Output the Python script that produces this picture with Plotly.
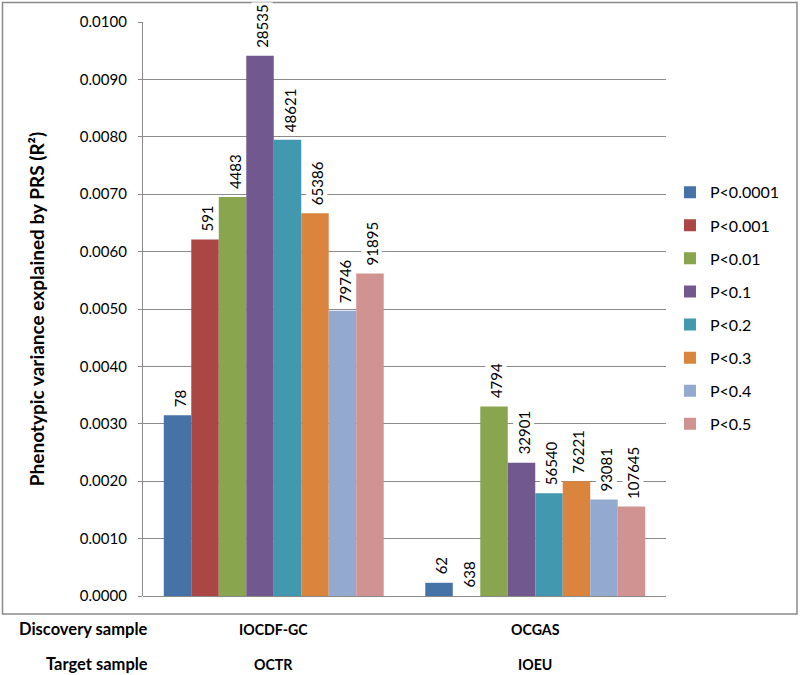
import plotly.graph_objects as go

# ---- data ----
categories = ["IOCDF-GC", "OCGAS"]
target_samples = ["OCTR", "IOEU"]
thresholds = ["P<0.0001", "P<0.001", "P<0.01", "P<0.1", "P<0.2", "P<0.3", "P<0.4", "P<0.5"]
r2_iocdf = [0.00315, 0.00621, 0.00695, 0.00941, 0.00795, 0.00667, 0.00497, 0.00562]
r2_ocgas = [0.00023, -0.00002, 0.00330, 0.00232, 0.00179, 0.00200, 0.00168, 0.00156]
snps_iocdf = ["78", "591", "4483", "28535", "48621", "65386", "79746", "91895"]
snps_ocgas = ["62", "638", "4794", "32901", "56540", "76221", "93081", "107645"]
colors = ["#4572A7", "#AA4643", "#89A54E", "#71588F", "#4198AF", "#DB843D", "#93A9CF", "#D19392"]
tick_vals = [0.000, 0.001, 0.002, 0.003, 0.004, 0.005, 0.006, 0.007, 0.008, 0.009, 0.010]
tick_text = ["0.0000", "0.0010", "0.0020", "0.0030", "0.0040", "0.0050",
             "0.0060", "0.0070", "0.0080", "0.0090", "0.0100"]

FONT = "Lato, 'Open Sans', Arial, sans-serif"
GRID = "#8a8a8a"
BARGAP = 0.159
PLOT_W = 800 - 143 - 134
PLOT_H = 675 - 22 - 79
BAR_PX = PLOT_W / len(categories) * (1 - BARGAP) / len(thresholds)


def px_x(px):
    return (px - 143) / PLOT_W


def px_y(px):
    return (596 - px) / PLOT_H


fig = go.Figure()
for i, name in enumerate(thresholds):
    fig.add_trace(go.Bar(
        name=name,
        x=categories,
        y=[r2_iocdf[i], r2_ocgas[i]],
        cliponaxis=False,
        marker=dict(color=colors[i], line=dict(width=0)),
        legendgroup=name,
    ))
    # SNP-count labels above each bar, white background like the original
    for cat, val, lab in zip(categories, [r2_iocdf[i], r2_ocgas[i]], [snps_iocdf[i], snps_ocgas[i]]):
        fig.add_annotation(
            x=cat, y=max(val, 0), xref="x", yref="y",
            text=lab, textangle=-90, showarrow=False,
            xanchor="center", yanchor="bottom",
            xshift=(i - (len(thresholds) - 1) / 2) * BAR_PX + 2, yshift=6,
            bgcolor="white", borderpad=1,
            font=dict(family=FONT, size=15, color="black"),
        )

fig.update_layout(
    width=800, height=675,
    barmode="group", bargap=BARGAP, bargroupgap=0,
    plot_bgcolor="white", paper_bgcolor="white",
    margin=dict(l=143, r=134, t=22, b=79, autoexpand=False),
    font=dict(family=FONT, size=15, color="black"),
    showlegend=True,
    legend=dict(
        x=1.0076, xanchor="left", y=0.733, yanchor="top",
        font=dict(family=FONT, size=16, color="black"),
        tracegroupgap=9.3, bgcolor="rgba(0,0,0,0)",
    ),
    xaxis=dict(showticklabels=False, showgrid=False, showline=False, ticks="",
               zeroline=False),
    yaxis=dict(
        range=[0, 0.0100], tickvals=tick_vals, ticktext=tick_text,
        showgrid=True, gridcolor=GRID, gridwidth=1.3,
        zeroline=True, zerolinecolor=GRID, zerolinewidth=1.3,
        showline=True, linecolor=GRID, linewidth=1.3,
        ticks="outside", ticklen=4, tickcolor=GRID, tickwidth=1.3,
        ticklabelstandoff=8,
        tickfont=dict(family=FONT, size=15, color="black"),
        title=dict(text="Phenotypic variance explained by PRS (R²)",
                   font=dict(family=FONT, size=19, color="black", weight="bold"),
                   standoff=30),
    ),
)

# outer chart frame
fig.add_shape(type="rect", xref="paper", yref="paper",
              x0=px_x(2.5), x1=px_x(797), y0=px_y(614), y1=px_y(2.5),
              line=dict(color="#8a8a8a", width=1.5), fillcolor="rgba(0,0,0,0)", layer="below")

lab_font = dict(family=FONT, size=14.2, color="black", weight="bold")
row_font = dict(family=FONT, size=16.5, color="black", weight="bold")
fig.add_annotation(text="Discovery sample", xref="paper", yref="paper",
                   x=px_x(150), xanchor="right", y=px_y(629), yanchor="middle",
                   showarrow=False, font=row_font)
fig.add_annotation(text="Target sample", xref="paper", yref="paper",
                   x=px_x(150), xanchor="right", y=px_y(664), yanchor="middle",
                   showarrow=False, font=row_font)
for cat, tgt in zip(categories, target_samples):
    fig.add_annotation(text=cat, xref="x", yref="paper", x=cat, y=px_y(629),
                       yanchor="middle", showarrow=False, font=lab_font)
    fig.add_annotation(text=tgt, xref="x", yref="paper", x=cat, y=px_y(664),
                       yanchor="middle", showarrow=False, font=lab_font)

# remove the browser's default 8px body margin so the figure sits at the page origin
fig.write_html("out.html", config={"displayModeBar": False},
               post_script="document.body.style.margin='0';")
